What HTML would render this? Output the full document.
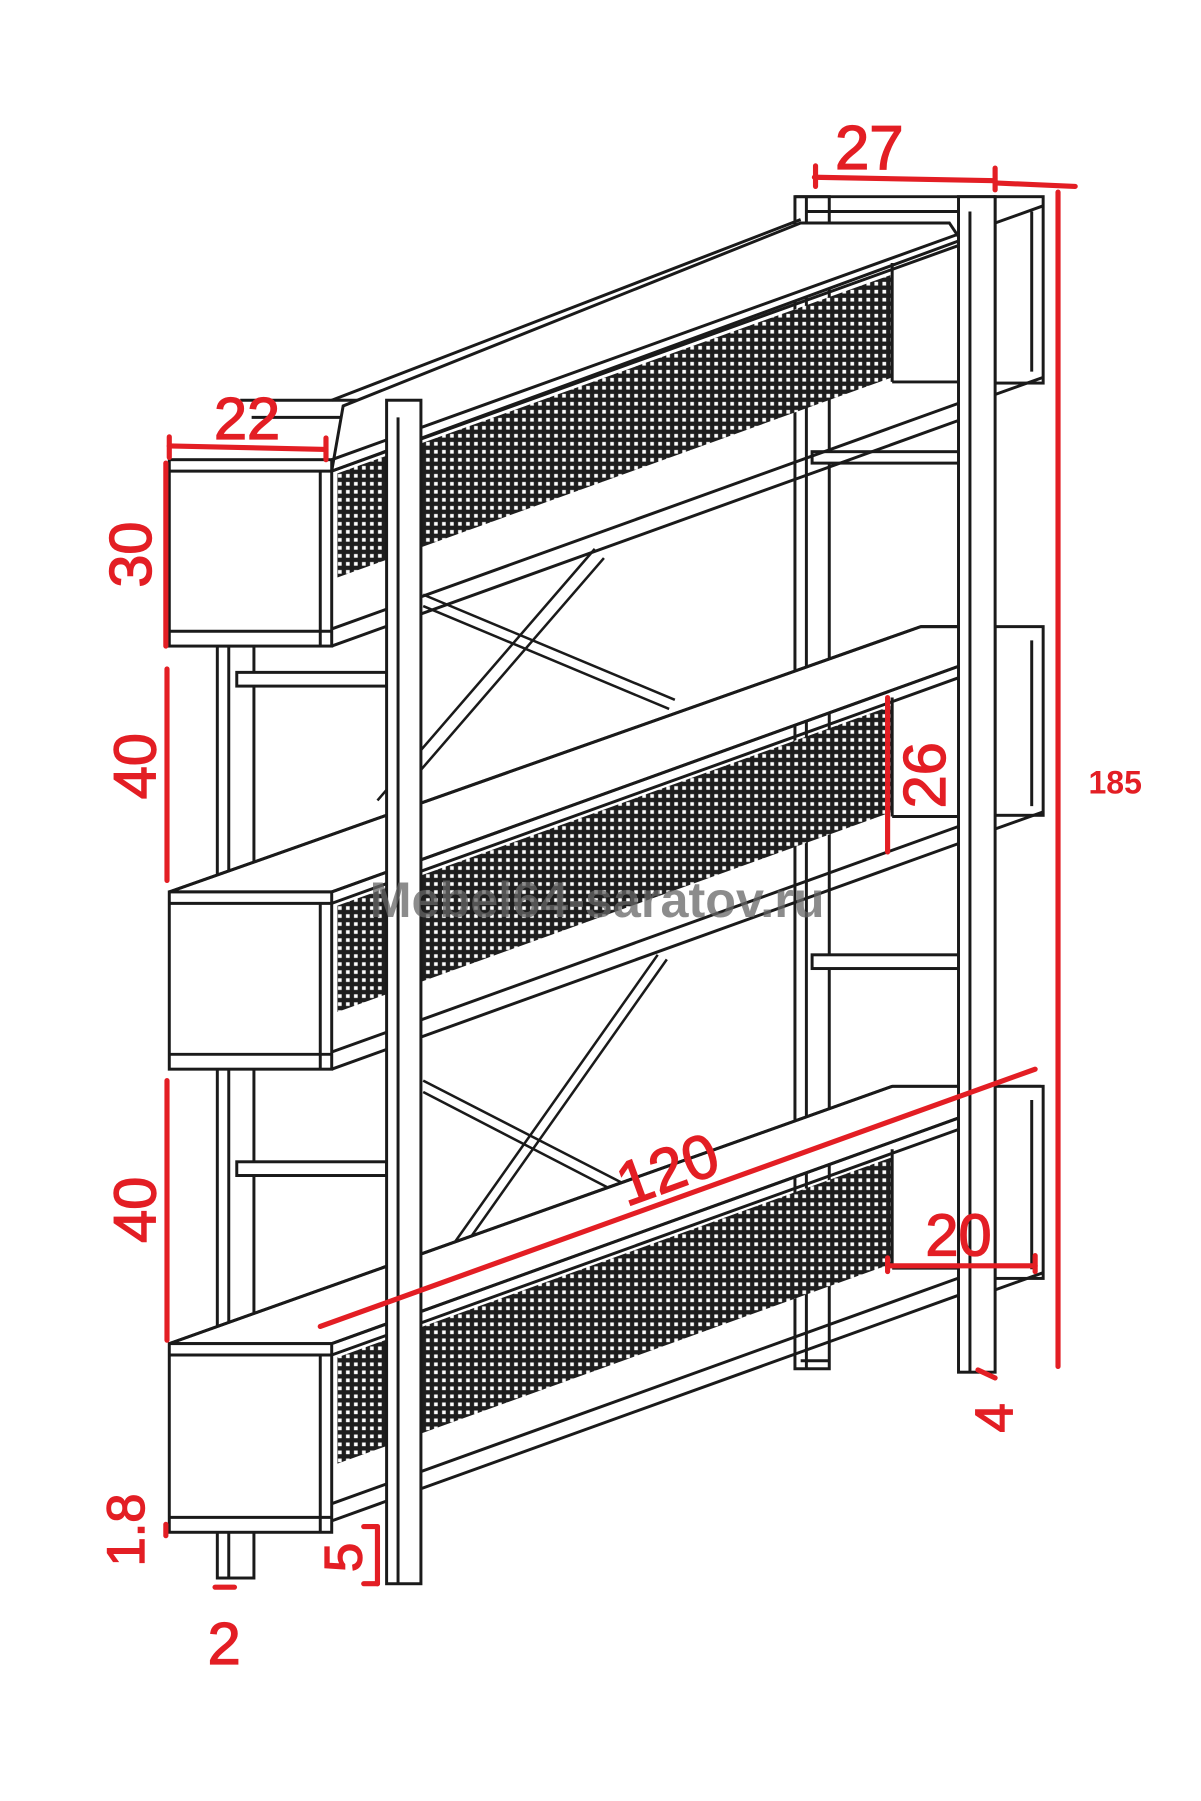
<!DOCTYPE html>
<html><head><meta charset="utf-8"><style>html,body{margin:0;padding:0;background:#fff}svg{display:block}</style></head>
<body>
<svg width="1201" height="1801" viewBox="0 0 1050 1575" preserveAspectRatio="none" xmlns="http://www.w3.org/2000/svg">
<defs>
<pattern id="m" width="7" height="7" patternUnits="userSpaceOnUse">
<rect width="7" height="7" fill="#1e1e1e"/><rect x="1.5" y="1.5" width="3.2" height="3.2" fill="#fff"/>
</pattern>
</defs>
<g fill="none" stroke="#1a1a1a" stroke-width="2.6">
<rect x="695" y="172" width="30" height="1025" fill="#fff"/>
<line x1="705" y1="172" x2="705" y2="1197"/>
<rect x="190" y="565" width="32" height="815" fill="#fff"/>
<line x1="200" y1="565" x2="200" y2="1380"/>
<rect x="207" y="588" width="131" height="12" fill="#fff"/>
<rect x="207" y="1016" width="131" height="12" fill="#fff"/>
<rect x="710" y="395" width="130" height="10" fill="#fff"/>
<rect x="710" y="835" width="130" height="12" fill="#fff"/>
<g stroke-width="2.2">
<line x1="370" y1="520" x2="590" y2="612"/><line x1="370" y1="530" x2="585" y2="620"/>
<line x1="330" y1="700" x2="520" y2="480"/><line x1="338" y1="708" x2="528" y2="488"/>
<line x1="370" y1="945" x2="545" y2="1035"/><line x1="370" y1="955" x2="540" y2="1043"/>
<line x1="395" y1="1090" x2="575" y2="835"/><line x1="403" y1="1094" x2="583" y2="839"/>
</g>
<polyline points="210,350 368,350" />
<polyline points="220,365 352,365 352,400"/>
<polyline points="695,172 870,172"/>
<polyline points="705,185 838,185"/>

<g>
<polygon points="300,355 700,195 830,195 840,210 290,412" fill="#fff"/>
<line x1="290" y1="350" x2="700" y2="192"/>
<polygon points="295,414 780,240 780,330 295,505" fill="url(#m)" stroke="none"/>
<line x1="290" y1="402" x2="840" y2="204"/>
<line x1="290" y1="412" x2="840" y2="214"/>
<line x1="780" y1="230" x2="780" y2="334"/>
<line x1="780" y1="334" x2="840" y2="334"/>
<line x1="290" y1="550" x2="840" y2="352"/>
<line x1="290" y1="565" x2="840" y2="367"/>
<rect x="148" y="402" width="142" height="163" fill="#fff"/>
<line x1="148" y1="412" x2="290" y2="412"/><line x1="148" y1="552" x2="290" y2="552"/>
<line x1="280" y1="412" x2="280" y2="565"/>
</g>
<g>
<polygon points="148,780 805,548 840,548 840,582 290,780" fill="#fff"/>
<line x1="148" y1="780" x2="805" y2="548"/>
<line x1="805" y1="548" x2="870" y2="548"/>
<polygon points="295,792 780,617 780,710 295,885" fill="url(#m)" stroke="none"/>
<line x1="290" y1="780" x2="840" y2="582"/>
<line x1="290" y1="790" x2="840" y2="592"/>
<line x1="780" y1="610" x2="780" y2="714"/>
<line x1="780" y1="714" x2="840" y2="714"/>
<line x1="290" y1="920" x2="840" y2="722"/>
<line x1="290" y1="935" x2="840" y2="737"/>
<rect x="148" y="780" width="142" height="155" fill="#fff"/>
<line x1="148" y1="790" x2="290" y2="790"/><line x1="148" y1="922" x2="290" y2="922"/>
<line x1="280" y1="790" x2="280" y2="935"/>
</g>
<g>
<polygon points="148,1175 780,950 840,950 840,977 290,1175" fill="#fff"/>
<line x1="148" y1="1175" x2="780" y2="950"/>
<line x1="780" y1="950" x2="910" y2="950"/>
<polygon points="295,1187 780,1012 780,1105 295,1280" fill="url(#m)" stroke="none"/>
<line x1="290" y1="1175" x2="840" y2="977"/>
<line x1="290" y1="1185" x2="840" y2="987"/>
<line x1="780" y1="1005" x2="780" y2="1109"/>
<line x1="780" y1="1109" x2="840" y2="1109"/>
<line x1="290" y1="1315" x2="840" y2="1117"/>
<line x1="290" y1="1330" x2="840" y2="1132"/>
<rect x="148" y="1175" width="142" height="165" fill="#fff"/>
<line x1="148" y1="1185" x2="290" y2="1185"/><line x1="148" y1="1327" x2="290" y2="1327"/>
<line x1="280" y1="1185" x2="280" y2="1340"/>
</g>
<rect x="870" y="172" width="42" height="163" fill="#fff"/><line x1="902" y1="185" x2="902" y2="325"/>
<line x1="870" y1="195" x2="912" y2="180"/>
<line x1="870" y1="345" x2="912" y2="330"/>
<rect x="870" y="548" width="42" height="165" fill="#fff"/><line x1="902" y1="560" x2="902" y2="705"/>
<line x1="870" y1="725" x2="912" y2="710"/>
<rect x="870" y="950" width="42" height="168" fill="#fff"/><line x1="902" y1="962" x2="902" y2="1110"/>
<line x1="870" y1="1128" x2="912" y2="1113"/>
<rect x="338" y="350" width="30" height="1035" fill="#fff"/>
<line x1="348" y1="365" x2="348" y2="1385"/>
<rect x="838" y="172" width="32" height="1028" fill="#fff"/>
<line x1="848" y1="185" x2="848" y2="1200"/>
<line x1="700" y1="1190" x2="725" y2="1190"/>
</g>
<text x="522" y="802" text-anchor="middle" font-family="Liberation Sans, sans-serif" font-weight="bold" font-size="44" fill="#666" fill-opacity="0.75">Mebel64-saratov.ru</text>
<g stroke="#e31e24" stroke-width="4.5" fill="none" stroke-linecap="round">
<line x1="712" y1="155" x2="870" y2="158"/><line x1="713" y1="145" x2="713" y2="163"/><line x1="870" y1="147" x2="870" y2="166"/>
<line x1="870" y1="160" x2="940" y2="163"/><line x1="925" y1="168" x2="925" y2="1195"/>
<line x1="148" y1="390" x2="285" y2="393"/><line x1="148" y1="382" x2="148" y2="400"/><line x1="285" y1="383" x2="285" y2="402"/>
<line x1="145" y1="405" x2="145" y2="565"/>
<line x1="146" y1="585" x2="146" y2="770"/>
<line x1="146" y1="945" x2="146" y2="1172"/>
<line x1="776" y1="610" x2="776" y2="745"/>
<line x1="280" y1="1160" x2="905" y2="935"/>
<line x1="776" y1="1107" x2="905" y2="1107"/><line x1="776" y1="1100" x2="776" y2="1112"/><line x1="905" y1="1098" x2="905" y2="1112"/>
<line x1="855" y1="1198" x2="870" y2="1205"/>
<line x1="145" y1="1333" x2="145" y2="1343"/>
<line x1="188" y1="1388" x2="205" y2="1388"/>
<line x1="318" y1="1335" x2="330" y2="1335"/><line x1="330" y1="1335" x2="330" y2="1385"/><line x1="318" y1="1385" x2="330" y2="1385"/>
</g>
<g fill="#e31e24" stroke="#e31e24" stroke-width="1.2" font-family="Liberation Sans, sans-serif">
<text x="760" y="148" font-size="54" text-anchor="middle">27</text>
<text x="975" y="694" font-size="28" font-weight="bold" stroke-width="0" text-anchor="middle">185</text>
<text x="216" y="384" font-size="52" text-anchor="middle">22</text>
<text transform="translate(132,485) rotate(-90)" font-size="52" text-anchor="middle">30</text>
<text transform="translate(136,670) rotate(-90)" font-size="52" text-anchor="middle">40</text>
<text transform="translate(136,1058) rotate(-90)" font-size="52" text-anchor="middle">40</text>
<text transform="translate(826,678) rotate(-90)" font-size="52" text-anchor="middle">26</text>
<text transform="translate(590,1040) rotate(-20)" font-size="54" text-anchor="middle">120</text>
<text x="838" y="1098" font-size="52" text-anchor="middle">20</text>
<text transform="translate(885,1240) rotate(-90)" font-size="46" text-anchor="middle">4</text>
<text transform="translate(126,1338) rotate(-90)" font-size="46" text-anchor="middle">1.8</text>
<text transform="translate(316,1362) rotate(-90)" font-size="46" text-anchor="middle">5</text>
<text x="196" y="1455" font-size="52" text-anchor="middle">2</text>
</g>
</svg>
</body></html>
